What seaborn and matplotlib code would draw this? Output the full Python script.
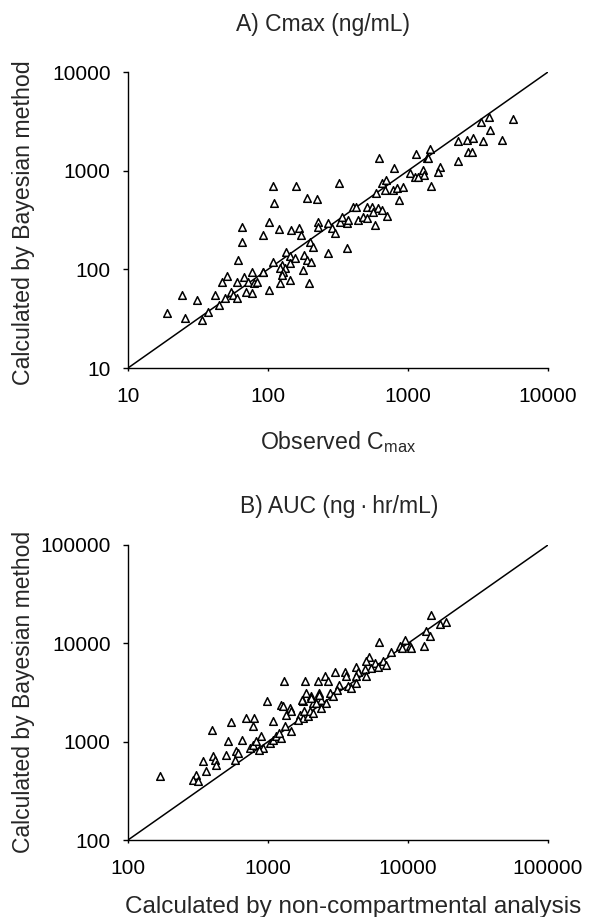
import matplotlib
matplotlib.use("Agg")
import matplotlib.pyplot as plt
import seaborn as sns
import pandas as pd
import numpy as np

# ---- Panel A: Cmax (ng/mL) ----
cmax_obs = [5600, 3790, 3320, 3850, 3450, 4670, 2265, 2620, 2930, 2690, 2850, 2265,
            1435, 1150, 1360, 1400, 1690, 1630, 1285, 1310, 1030, 1120, 1185, 1460,
            624, 798, 650, 696, 686, 785, 830, 925, 867, 590, 507, 550, 614, 565, 648,
            705, 580, 407, 428, 441, 479, 507, 327, 336, 365, 375, 323, 229, 229, 270,
            285, 301, 189, 223, 158, 109, 111, 65, 65, 102, 119, 145, 167, 172, 92,
            200, 211, 270, 369, 134, 144, 156, 109, 125, 132, 144, 182, 189, 179, 202,
            61, 51, 77, 92, 197, 92.5, 122, 129, 125, 122, 144, 102, 67, 72, 79, 70,
            77, 83, 60, 47, 54, 56.5, 60, 49, 45, 42, 37.5, 33.6, 31, 24.5, 25.5, 19]
cmax_bayes = [3320, 3525, 3140, 2580, 2000, 2050, 2000, 2050, 2140, 1550, 1550, 1250,
              1650, 1480, 1340, 1340, 1100, 975, 1015, 905, 940, 870, 870, 705,
              1340, 1055, 757, 805, 630, 630, 660, 690, 505, 590, 432, 432, 416, 384, 399,
              348, 282, 432, 432, 316, 342, 329, 304, 342, 293, 316, 745, 304, 271, 293,
              261, 232, 525, 513, 700, 705, 468, 271, 191, 300, 255, 250, 261, 223, 223,
              191, 170, 146, 166, 151, 135, 129, 120, 111, 102, 115, 140, 124, 99, 120,
              124, 86, 93, 95, 72.5, 95, 102, 95, 88, 72, 78, 61.5, 84, 75, 72, 59,
              57, 75, 75, 75, 59, 55, 51, 51, 44, 55, 37, 30.7, 49, 55, 32, 36]

# ---- Panel B: AUC (ng*hr/mL) ----
auc_nca = [14500, 16800, 18750, 13500, 14250, 13100, 6180, 9590, 8700, 9080, 10250, 10540,
           7590, 5250, 5020, 5770, 5450, 6080, 6610, 6980, 4220, 4380, 4890, 5020, 4270,
           3030, 3520, 3580, 3720, 3930, 4270, 3240, 3100, 2540, 2670, 2270, 1850, 1310,
           2330, 2040, 1880, 1770, 2090, 2400, 2750, 2900, 2610, 1240, 986, 1425, 1275,
           1466, 1350, 2210, 2400, 1680, 1770, 1920, 1820, 1980, 2090, 1630, 1080, 792,
           698, 787, 546, 399, 516, 655, 502, 593, 608, 577, 346, 404, 415, 426, 362,
           307, 290, 315, 168, 738, 778, 824, 893, 918, 869, 1025, 1080, 1145, 1240,
           1208, 1312, 1466, 1740, 2040, 2330]
auc_bayes = [19450, 15670, 16640, 13200, 11900, 9440, 10270, 10800, 9440, 8940, 9290, 8940,
             8070, 7180, 6540, 6290, 5600, 5810, 6540, 6050, 5810, 5170, 5470, 4600, 4600,
             5060, 5170, 4600, 3640, 3510, 3940, 3790, 3380, 4600, 4100, 4100, 4100, 4100,
             3120, 2880, 3120, 2570, 2470, 2670, 3120, 2880, 2470, 2380, 2610, 2200, 2280,
             2030, 1880, 2470, 2200, 1880, 1740, 1810, 2030, 2030, 1950, 1670, 1610, 1740,
             1740, 1450, 1585, 1300, 1007, 1047, 738, 811, 768, 656, 631, 710, 656, 585, 500,
             462, 411, 395, 445, 863, 933, 1007, 1132, 863, 830, 970, 1047, 1132, 1090,
             1225, 1430, 1270, 2670, 2750, 3000]

identity_a = [10, 10000]
identity_b = [100, 100000]
ticks_a = [10, 100, 1000, 10000]
ticks_b = [100, 1000, 10000, 100000]

sns.set_style("ticks")
plt.rcParams['font.family'] = ['Liberation Sans', 'DejaVu Sans']
plt.rcParams['mathtext.fontset'] = 'custom'
plt.rcParams['mathtext.rm'] = 'Liberation Sans'

fig = plt.figure(figsize=(5.9, 9.17), dpi=100)
ax1 = fig.add_axes([128/590, (917-368)/917, 420/590, 296/917])
ax2 = fig.add_axes([128/590, (917-840)/917, 420/590, 295/917])

dfa = pd.DataFrame({"obs": cmax_obs, "pred": cmax_bayes})
dfb = pd.DataFrame({"obs": auc_nca, "pred": auc_bayes})

for ax, df, ident, ticks in [(ax1, dfa, identity_a, ticks_a), (ax2, dfb, identity_b, ticks_b)]:
    sns.lineplot(x=ident, y=ident, ax=ax, color="black", linewidth=1.1)
    sns.scatterplot(data=df, x="obs", y="pred", ax=ax, marker="^", s=30,
                    facecolor="white", edgecolor="black", linewidth=1.1, zorder=3)
    ax.set_xscale("log")
    ax.set_yscale("log")
    ax.set_xlim(ident[0], ident[1])
    ax.set_ylim(ident[0], ident[1])
    ax.set_xticks(ticks)
    ax.set_xticklabels([str(t) for t in ticks])
    ax.set_yticks(ticks)
    ax.set_yticklabels([str(t) for t in ticks])
    ax.minorticks_off()
    sns.despine(ax=ax)
    for s in ["left", "bottom"]:
        ax.spines[s].set_linewidth(1.0)
        ax.spines[s].set_color("black")
    ax.tick_params(axis="y", direction="out", length=3.5, width=1, pad=9, labelsize=15, colors="black")
    ax.tick_params(axis="x", direction="out", length=2, width=1, pad=12, labelsize=15, colors="black")
    ax.set_xlabel("")
    ax.set_ylabel("")

fig.text(24/590, 1 - 223/917, "Calculated by Bayesian method", rotation=90,
         ha="center", va="center", fontsize=16.7)
fig.text(24/590, 1 - 692/917, "Calculated by Bayesian method", rotation=90,
         ha="center", va="center", fontsize=16.5)
fig.text(323/590, 1 - 25/917, "A) Cmax (ng/mL)", ha="center", va="center", fontsize=16.5)
fig.text(339/590, 1 - 507/917, "B) AUC (ng\u2009\u00b7\u2009hr/mL)", ha="center", va="center", fontsize=16.5)
fig.text(338/590, 1 - 442/917, r"Observed C$_{\mathregular{max}}$", ha="center", va="center", fontsize=16.7)
fig.text(353/590, 1 - 907/917, "Calculated by non-compartmental analysis", ha="center", va="center", fontsize=17.5)

fig.savefig("out.png", dpi=100)
